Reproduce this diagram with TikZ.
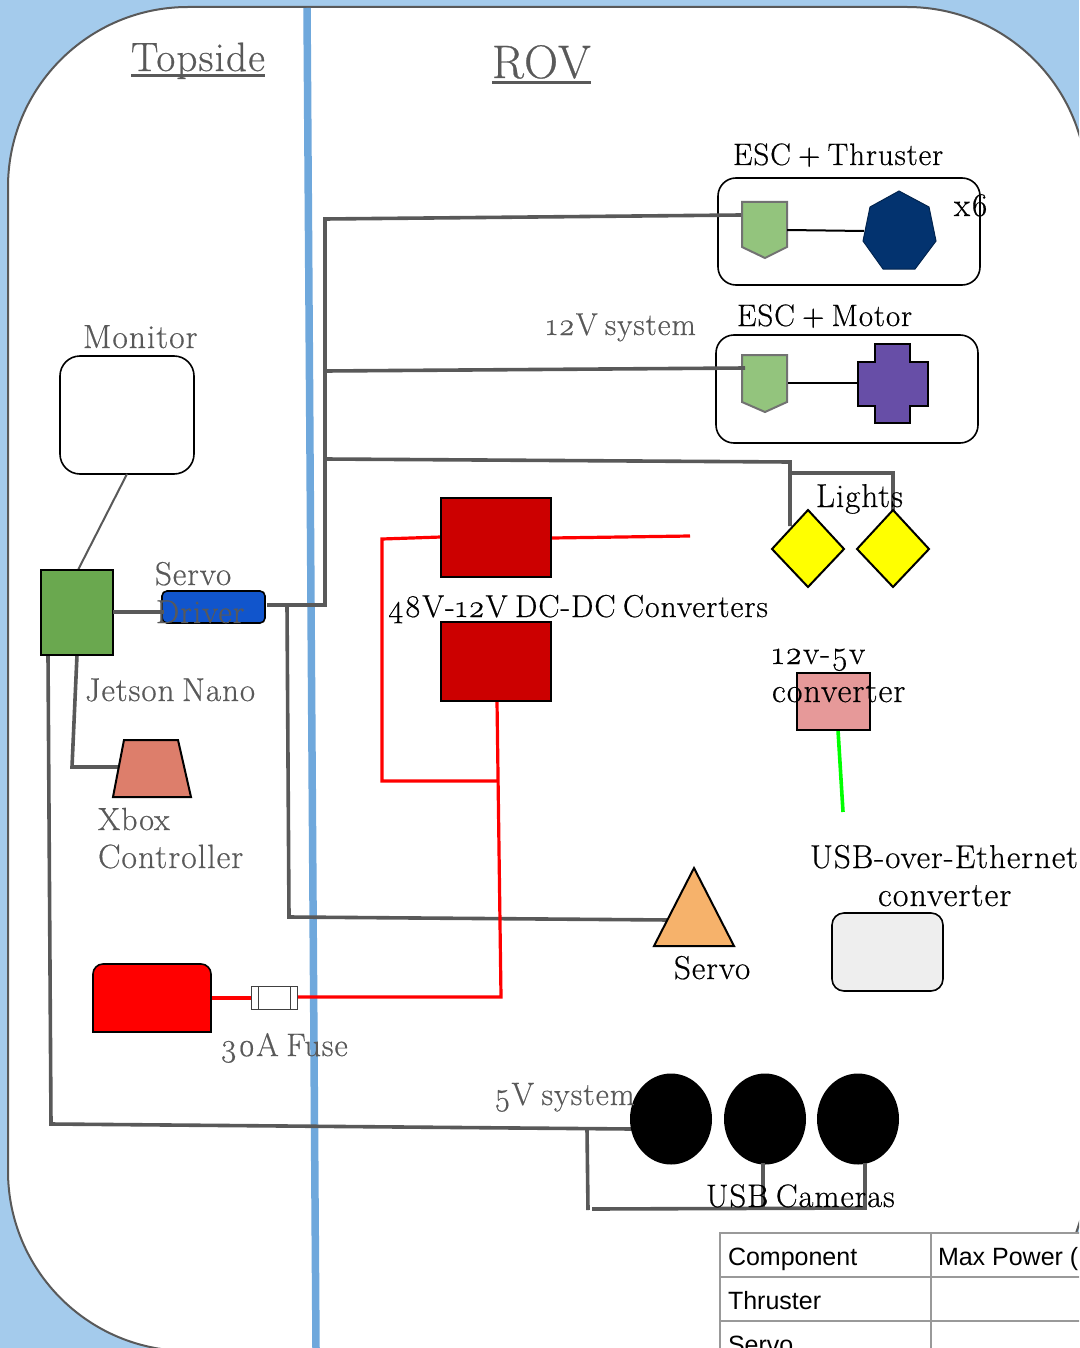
\documentclass[tikz,border=0pt]{standalone}
\usepackage{fontspec}
\setmainfont{Latin Modern Roman}[Numbers=OldStyle,LetterSpace=3,WordSpace=0.7,RawFeature={embolden=0.5}]
\newfontfamily\tablefont{Liberation Sans}
\definecolor{bgblue}{HTML}{A4CBEC}
\definecolor{divider}{HTML}{6FA8DC}
\definecolor{wire}{HTML}{595959}
\definecolor{gridgray}{HTML}{999999}
\definecolor{jetsongreen}{HTML}{6AA84F}
\definecolor{driverblue}{HTML}{1155CC}
\definecolor{escgreen}{HTML}{93C47D}
\definecolor{thrusterblue}{HTML}{03336F}
\definecolor{motorpurple}{HTML}{674EA7}
\definecolor{xboxred}{HTML}{DD7E6B}
\definecolor{convred}{HTML}{CC0000}
\definecolor{pinkbox}{HTML}{E69999}
\definecolor{servoorange}{HTML}{F6B26B}
\definecolor{lightgraybox}{HTML}{EEEEEE}
\definecolor{lampyellow}{HTML}{FFFF00}
\definecolor{purered}{HTML}{FF0000}
\definecolor{puregreen}{HTML}{00FF00}
\tikzset{
  boxnode/.style={draw=black,line width=1.6pt,inner sep=0pt,outer sep=0pt},
  wireline/.style={draw=wire,line width=3.6pt,line join=miter},
  redline/.style={draw=purered,line width=3.2pt},
  blackline/.style={draw=black,line width=2pt},
  shield/.style={draw=wire!85,fill=escgreen,line width=2pt},
  shapeline/.style={draw=black,line width=2pt,line join=miter},
  lbl/.style={anchor=base west,inner sep=0pt,outer sep=0pt,text=black},
  glbl/.style={lbl,text=wire},
  grid/.style={draw=gridgray,line width=2pt},
  tcell/.style={anchor=base west,inner sep=0pt,outer sep=0pt,font=\tablefont\fontsize{25}{30}\selectfont,text=black},
}
\newcommand{\sz}[1]{\fontsize{#1}{#1}\selectfont}
\begin{document}
\begin{tikzpicture}[x=1pt,y=-1pt]
\clip (0,0) rectangle (1079,1348);
\fill[bgblue] (0,0) rectangle (1079,1348);
\draw[draw=wire,fill=white,line width=2pt,rounded corners=180pt] (8,7) rectangle (1087,1351);

% divider
\coordinate (divtop) at (307,8);
\coordinate (divbot) at (316,1348);
\draw[divider,line width=7.5pt] (divtop) -- (divbot);

% wire junctions and ends
\coordinate (jetR) at (113,612);
\coordinate (drvL) at (164,612);
\coordinate (drvR) at (267,605);
\coordinate (busB) at (325,605);
\coordinate (bus12a) at (325,219);
\coordinate (escAin) at (741,215);
\coordinate (bus12b) at (325,371);
\coordinate (escBin) at (745,368);
\coordinate (bus12c) at (325,459);
\coordinate (lightCorner) at (790,462);
\coordinate (lightA) at (790,526);
\coordinate (lightJ) at (790,473);
\coordinate (lightK) at (893,473);
\coordinate (lightB) at (893,512);
\coordinate (servoJ) at (287,605);
\coordinate (servoK) at (289,917);
\coordinate (servoIn) at (670,920);
\coordinate (jetXbox) at (77,655);
\coordinate (xboxK) at (72,767);
\coordinate (xboxIn) at (120,767);
\coordinate (jetCam) at (48,655);
\coordinate (camK) at (51,1124);
\coordinate (camIn) at (632,1129);
\coordinate (camJ) at (587,1129);
\coordinate (camL) at (588,1210);
\coordinate (camM) at (592,1209);
\coordinate (camR) at (865,1208);
\coordinate (camRup) at (865,1163);
\coordinate (camC) at (763,1208);
\coordinate (camCup) at (763,1163);
\coordinate (monB) at (127,474);
\coordinate (jetT) at (78,570);

% monitor, Jetson etc.
\node[boxnode,fill=white,rounded corners=20pt,minimum width=134pt,minimum height=118pt] (monitor) at (127,415) {};
\draw[draw=wire,line width=2pt] (monB) -- (jetT);

% thruster and motor groups
\node[boxnode,fill=white,rounded corners=18pt,minimum width=262pt,minimum height=107pt] (thrusterbox) at (849,231.5) {};
\node[boxnode,fill=white,rounded corners=18pt,minimum width=262pt,minimum height=108pt] (motorbox) at (847,389) {};

% wires beneath shapes
\draw[wireline] (jetXbox) -- (xboxK) -- (xboxIn);
\draw[wireline] (jetCam) -- (camK) -- (camIn);
\draw[wireline] (camJ) -- (camL);
\draw[wireline] (camM) -- (camR) -- (camRup);
\draw[wireline] (camC) -- (camCup);

\node[boxnode,fill=jetsongreen,minimum width=72pt,minimum height=85pt] (jetson) at (77,612.5) {};
\node[boxnode,fill=driverblue,rounded corners=5pt,minimum width=103pt,minimum height=32pt] (driver) at (213.5,607) {};
\draw[wireline] (jetR) -- (drvL);

\draw[shapeline,fill=xboxred] (124,740) -- (178,740) -- (191,797) -- (113,797) -- cycle;

% ESC shields
\draw[shield] (742,202) -- (787,202) -- (787,247) -- (765,258) -- (742,247) -- cycle;
\draw[shield] (742,355) -- (787,355) -- (787,402) -- (765,412) -- (742,402) -- cycle;
\coordinate (escAout) at (787,230);
\coordinate (thrIn) at (864,231);
\coordinate (escBout) at (788,383);
\coordinate (motIn) at (858,383);
\draw[blackline] (escAout) -- (thrIn);
\draw[blackline] (escBout) -- (motIn);
\draw[draw=thrusterblue!70!black,fill=thrusterblue,line width=1pt] (899,191) -- (929,207) -- (936,241) -- (915,269) -- (883,269) -- (863,241) -- (870,207) -- cycle;
\draw[shapeline,fill=motorpurple] (875,344) -- (910,344) -- (910,362) -- (928,362) -- (928,406) -- (910,406) -- (910,423) -- (875,423) -- (875,406) -- (858,406) -- (858,362) -- (875,362) -- cycle;

% power wires
\draw[wireline] (drvR) -- (busB) -- (bus12a) -- (escAin);
\draw[wireline] (bus12b) -- (escBin);
\draw[wireline] (bus12c) -- (lightCorner) -- (lightA);
\draw[wireline] (lightJ) -- (lightK) -- (lightB);
\draw[wireline] (servoJ) -- (servoK) -- (servoIn);

% diamonds
\draw[shapeline,fill=lampyellow] (808,510) -- (844,549) -- (808,587) -- (772,549) -- cycle;
\draw[shapeline,fill=lampyellow] (893,510) -- (929,549) -- (893,587) -- (857,549) -- cycle;

% red wiring
\coordinate (battR) at (211,998);
\coordinate (fuseL) at (251,998);
\coordinate (fuseR) at (297,997);
\coordinate (redK) at (501,997);
\coordinate (convBot) at (497,701);
\coordinate (redJ) at (497,781);
\coordinate (redL) at (382,781);
\coordinate (redU) at (382,539);
\coordinate (convTopL) at (441,537);
\coordinate (convTopR) at (552,538);
\coordinate (redEnd) at (690,536);
\draw[redline] (battR) -- (fuseL);
\draw[redline] (fuseR) -- (redK) -- (convBot);
\draw[redline] (redJ) -- (redL) -- (redU) -- (convTopL);
\draw[redline] (convTopR) -- (redEnd);
\node[boxnode,fill=convred,minimum width=110pt,minimum height=79pt] (convA) at (496,537.5) {};
\node[boxnode,fill=convred,minimum width=110pt,minimum height=79pt] (convB) at (496,661.5) {};

% battery
\draw[shapeline,fill=purered,line width=1.6pt] (93,1032) -- (93,974) arc[start angle=180,end angle=270,radius=10] -- (201,964) arc[start angle=270,end angle=360,radius=10] -- (211,1032) -- cycle;

% fuse
\draw[draw=black!75,fill=white,line width=1pt] (251,986) rectangle (297,1009);
\draw[draw=black!75,line width=1pt] (258,986) -- (258,1009);
\draw[draw=black!75,line width=1pt] (290,986) -- (290,1009);

% 5V converter and usb
\coordinate (pinkB) at (838,730);
\coordinate (greenEnd) at (843,812);
\draw[draw=puregreen,line width=3.6pt] (pinkB) -- (greenEnd);
\node[boxnode,fill=pinkbox,minimum width=73pt,minimum height=57pt] (pink) at (833.5,701.5) {};
\node[boxnode,fill=lightgraybox,rounded corners=12pt,minimum width=111pt,minimum height=78pt] (usbbox) at (887.5,952) {};

% servo triangle
\draw[shapeline,fill=servoorange] (694,868) -- (734,946) -- (654,946) -- cycle;

% cameras
\fill[black] (671,1119) ellipse[x radius=41,y radius=45.5];
\fill[black] (765,1119) ellipse[x radius=41,y radius=45.5];
\fill[black] (858,1119) ellipse[x radius=41,y radius=45.5];
\draw[wireline] (camC) -- (camCup);
\draw[wireline] (camR) -- (camRup);

% table
\fill[white] (720,1233) rectangle (1079,1348);
\draw[grid] (720,1348) -- (720,1233) -- (1085,1233);
\draw[grid] (720,1277) -- (1085,1277);
\draw[grid] (720,1321) -- (1085,1321);
\draw[grid] (931,1233) -- (931,1348);
\node[tcell] (tcomp) at (728,1265) {Component};
\node[tcell] (tmax) at (938,1265) {Max Power (};
\node[tcell] (tthr) at (728,1309) {Thruster};
\node[tcell] (tservo) at (728,1353) {Servo};

% labels
\node[glbl,font=\sz{41}] (topside) at (131,71) {Topside};
\draw[wire,line width=3pt] ([yshift=-5pt]topside.base west) -- ([yshift=-5pt]topside.base east);
\node[glbl,font=\sz{47}] (rov) at (492,78) {ROV};
\draw[wire,line width=3pt] ([yshift=-5pt]rov.base west) -- ([yshift=-5pt]rov.base east);
\node[lbl,font=\sz{31}] (lthr) at (733,165) {ESC + Thruster};
\node[lbl,font=\sz{33}] (lx6) at (954,216) {x6};
\node[glbl,font=\sz{33.5}] (lmon) at (83,348) {Monitor};
\node[glbl,font=\sz{31.5}] (l12) at (546,335) {12V system};
\node[lbl,font=\sz{31}] (lmot) at (737,326) {ESC + Motor};
\node[lbl,font=\sz{33}] (llights) at (816,507) {Lights};
\node[lbl,font=\sz{31.7}] (l48) at (388,617) {48V-12V DC-DC Converters};
\node[glbl,font=\sz{33}] (ldrv1) at (155,585) {Servo};
\node[glbl,font=\sz{33}] (ldrv2) at (156,623) {Driver};
\node[glbl,font=\sz{33}] (ljet) at (85,701) {Jetson Nano};
\node[lbl,font=\sz{33}] (l125a) at (772,664) {12v-5v};
\node[lbl,font=\sz{34}] (l125b) at (772,702) {converter};
\node[glbl,font=\sz{32}] (lxb1) at (98,830) {Xbox};
\node[glbl,font=\sz{33.7}] (lxb2) at (98,868) {Controller};
\node[lbl,font=\sz{33}] (lusb1) at (810,868) {USB-over-Ethernet};
\node[lbl,font=\sz{34}] (lusb2) at (878,906) {converter};
\node[lbl,font=\sz{33}] (lsrv) at (674,979) {Servo};
\node[glbl,font=\sz{32.5}] (lfuse) at (220,1056) {30A Fuse};
\node[glbl,font=\sz{32.3}] (l5v) at (494,1105) {5V system};
\node[lbl,font=\sz{32.5}] (lcam) at (706,1207) {USB Cameras};
\end{tikzpicture}
\end{document}
